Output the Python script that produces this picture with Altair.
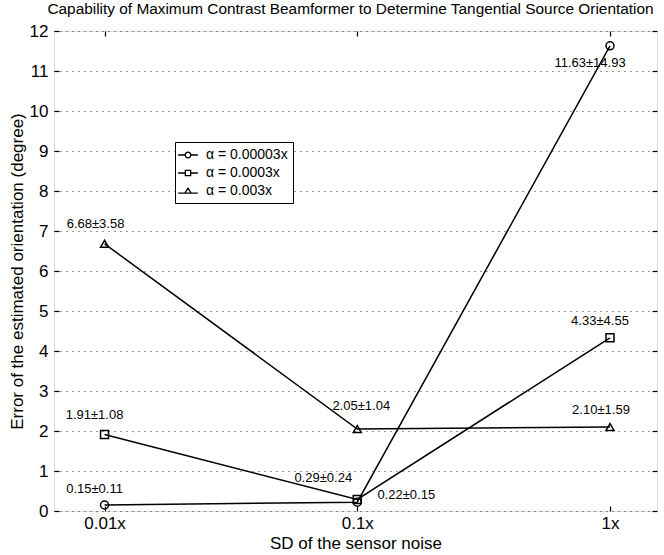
import altair as alt
import pandas as pd

# ---- data ----
noise_labels = ["0.01x", "0.1x", "1x"]
noise_levels = [0.01, 0.1, 1.0]
series_names = ["α = 0.00003x", "α = 0.0003x", "α = 0.003x"]
mean_a = [0.15, 0.22, 11.63]
sd_a = [0.11, 0.15, 14.93]
mean_b = [1.91, 0.29, 4.33]
sd_b = [1.08, 0.24, 4.55]
mean_c = [6.68, 2.05, 2.10]
sd_c = [3.58, 1.04, 1.59]
y_ticks = list(range(0, 13))

# ---- label offsets (styling, pixels) ----
label_dx = [[-10, 49, -20], [-10, -34, -10], [-9, 4, -9]]
label_dy = [[-16, -7, 17], [-20, -21, -17], [-20, -23, -17]]

rows = []
for si, (name, means, sds) in enumerate(zip(series_names, [mean_a, mean_b, mean_c], [sd_a, sd_b, sd_c])):
    for ni, lvl in enumerate(noise_levels):
        rows.append({
            "series": name, "noise": lvl, "value": means[ni],
            "label": f"{means[ni]:.2f}±{sds[ni]:.2f}",
            "idx": si * 3 + ni, "order": ni,
        })
df = pd.DataFrame(rows)

FONT = "Liberation Sans"
xscale = alt.Scale(type="log", domain=[10 ** -2.2, 10 ** 0.186], nice=False)
yscale = alt.Scale(domain=[0, 12], nice=False, zero=False)

base = alt.Chart(df)

lines = base.mark_line(color="black", strokeWidth=1.5).encode(
    x=alt.X("noise:Q", scale=xscale, title="SD of the sensor noise",
            axis=alt.Axis(orient="bottom", values=noise_levels, labelExpr="datum.value + 'x'",
                          offset=-5, tickSize=5, domain=False, labelPadding=4,
                          labelFontSize=17, titleFontSize=17, titleFontWeight="normal",
                          labelFont=FONT, titleFont=FONT, labelColor="black", titleColor="black",
                          tickColor="black", tickWidth=1.2, grid=False, titlePadding=4)),
    y=alt.Y("value:Q", scale=yscale, title="Error of the estimated orientation (degree)",
            axis=alt.Axis(orient="left", values=y_ticks, offset=-5, tickSize=5, domain=False,
                          labelPadding=6, labelFontSize=17, titleFontSize=17,
                          titleFontWeight="normal", labelFont=FONT, titleFont=FONT,
                          labelColor="black", titleColor="black", tickColor="black",
                          tickWidth=1.2, grid=True, gridColor="black", gridDash=[1, 5],
                          gridWidth=1, gridOpacity=0.8, titlePadding=3)),
    detail="series:N",
    order="order:Q",
)

points = base.mark_point(filled=False, color="black", size=64, strokeWidth=1.5, opacity=1).encode(
    x=alt.X("noise:Q", scale=xscale, axis=None),
    y=alt.Y("value:Q", scale=yscale, axis=None),
    shape=alt.Shape("series:N", scale=alt.Scale(domain=series_names,
                    range=["circle", "square", "triangle-up"]), legend=None),
)

legend_paths = [
    "M-1.4,0H-0.4M0.4,0H1.4M0.4,0A0.4,0.4,0,1,1,-0.4,0A0.4,0.4,0,1,1,0.4,0Z",
    "M-1.4,0H-0.38M0.38,0H1.4M-0.38,-0.38H0.38V0.38H-0.38Z",
    "M-1.4,0.3H1.4M0,-0.4L0.45,0.3H-0.45Z",
]
legend_layer = base.mark_point(opacity=0).encode(
    x=alt.X("noise:Q", scale=xscale,
            axis=alt.Axis(orient="top", values=noise_levels, labels=False, title=None,
                          offset=-5, tickSize=5, domain=False, tickColor="black",
                          tickWidth=1.2, grid=False)),
    y=alt.Y("value:Q", scale=yscale,
            axis=alt.Axis(orient="right", values=y_ticks, labels=False, title=None,
                          offset=-5, tickSize=5, domain=False, tickColor="black",
                          tickWidth=1.2, grid=False)),
    shape=alt.Shape("series:N", scale=alt.Scale(domain=series_names, range=legend_paths),
                    legend=alt.Legend(title=None, orient="none", legendX=121, legendY=111,
                                      symbolSize=196, symbolOpacity=1, symbolStrokeColor="black",
                                      symbolFillColor="white", symbolStrokeWidth=1.3,
                                      labelFontSize=14, labelFont=FONT, labelColor="black",
                                      strokeColor="black", fillColor="white", padding=5,
                                      rowPadding=3, labelOffset=10, cornerRadius=0)),
)

text_layers = []
for si in range(3):
    for ni in range(3):
        idx = si * 3 + ni
        text_layers.append(
            base.transform_filter(alt.datum.idx == idx).mark_text(
                fontSize=13, font=FONT, color="black", align="center", baseline="middle",
                dx=label_dx[si][ni], dy=label_dy[si][ni],
            ).encode(
                x=alt.X("noise:Q", scale=xscale, axis=None),
                y=alt.Y("value:Q", scale=yscale, axis=None),
                text="label:N",
            )
        )

chart = alt.layer(lines, points, legend_layer, *text_layers).resolve_scale(
    shape="independent"
).resolve_axis(x="independent", y="independent").properties(
    width=603, height=480,
    title=alt.Title("Capability of Maximum Contrast Beamformer to Determine Tangential Source Orientation",
                    fontSize=15.4, font=FONT, fontWeight="normal", color="black", anchor="middle",
                    offset=5, dx=-5),
    autosize=alt.AutoSizeParams(type="none"),
    padding={"left": 54, "top": 31, "right": 7, "bottom": 44},
).configure_view(stroke="black", strokeWidth=1.3).configure(background="white")

chart.save("out.html", embed_options={"renderer": "svg", "actions": False})
